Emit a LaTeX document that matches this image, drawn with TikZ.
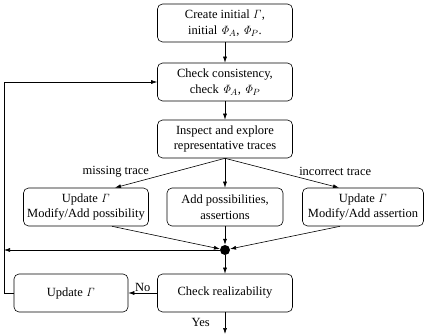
\documentclass[tikz,border=0pt]{standalone}
\usepackage[no-math]{fontspec}
\setmainfont{Liberation Serif}
\usepackage{tikz}
\usetikzlibrary{arrows.meta, positioning, calc}
\newcommand{\gam}{$\mathit{\Gamma}$}
\newcommand{\phia}{$\mathit{\Phi}_A$}
\newcommand{\phip}{$\mathit{\Phi}_P$}

\begin{document}
\begin{tikzpicture}[x=1pt, y=-1pt, font=\fontsize{12.5}{15.5}\selectfont,
  stepbox/.style={draw, rounded corners=5pt, align=center, minimum height=38pt, inner sep=1pt, line width=0.6pt},
  flow/.style={-{Latex[length=6pt, width=4pt]}, line width=0.6pt},
  edgelabel/.style={inner sep=1pt}]
  \useasboundingbox (0,0) rectangle (425,336);
  % main column
  \node[stepbox, minimum width=135pt] (create) at (225,23) {Create initial \gam,\\initial \phia, \phip.};
  \node[stepbox, minimum width=135pt] (consist) at (225,82) {Check consistency,\\check \phia, \phip};
  \node[stepbox, minimum width=135pt] (inspect) at (225,139) {Inspect and explore\\representative traces};
  % the three updates
  \node[stepbox, minimum width=125pt] (updpos) at (86,207) {Update \gam\\Modify/Add possibility};
  \node[stepbox, minimum width=116pt] (addpos) at (225,207) {Add possibilities,\\assertions};
  \node[stepbox, minimum width=121pt] (updass) at (363,207) {Update \gam\\Modify/Add assertion};
  \node[circle, fill, inner sep=0pt, minimum size=10pt] (join) at (225,250) {};
  \node[stepbox, minimum width=135pt] (real) at (225,293) {Check realizability};
  \node[stepbox, minimum width=114pt] (updgam) at (71,293) {Update \gam};
  \coordinate (back) at (4,293);
  \coordinate (done) at (225,334);

  \draw[flow] (create) -- (consist);
  \draw[flow] (consist) -- (inspect);
  \draw[flow] (inspect.south) -- ([xshift=29pt]updpos.north)
    node[pos=0.68, anchor=south east, edgelabel] {missing trace};
  \draw[flow] (inspect.south) -- (addpos.north);
  \draw[flow] (inspect.south) -- ([xshift=-24pt]updass.north)
    node[pos=0.64, anchor=south west, edgelabel] {incorrect trace};
  \draw[flow] ([xshift=26pt]updpos.south) -- (join);
  \draw[flow] (addpos) -- (join);
  \draw[flow] ([xshift=-23pt]updass.south) -- (join);
  \draw[flow] (join) -- (join -| back);
  \draw[flow] (join) -- (real);
  \draw[flow] (real) -- (updgam) node[midway, above, edgelabel] {No};
  \draw[flow] (real) -- (done) node[pos=0.45, left=14pt, edgelabel] {Yes};
  \draw[flow] (updgam.west) -- (back) |- (consist.west);
\end{tikzpicture}
\end{document}
